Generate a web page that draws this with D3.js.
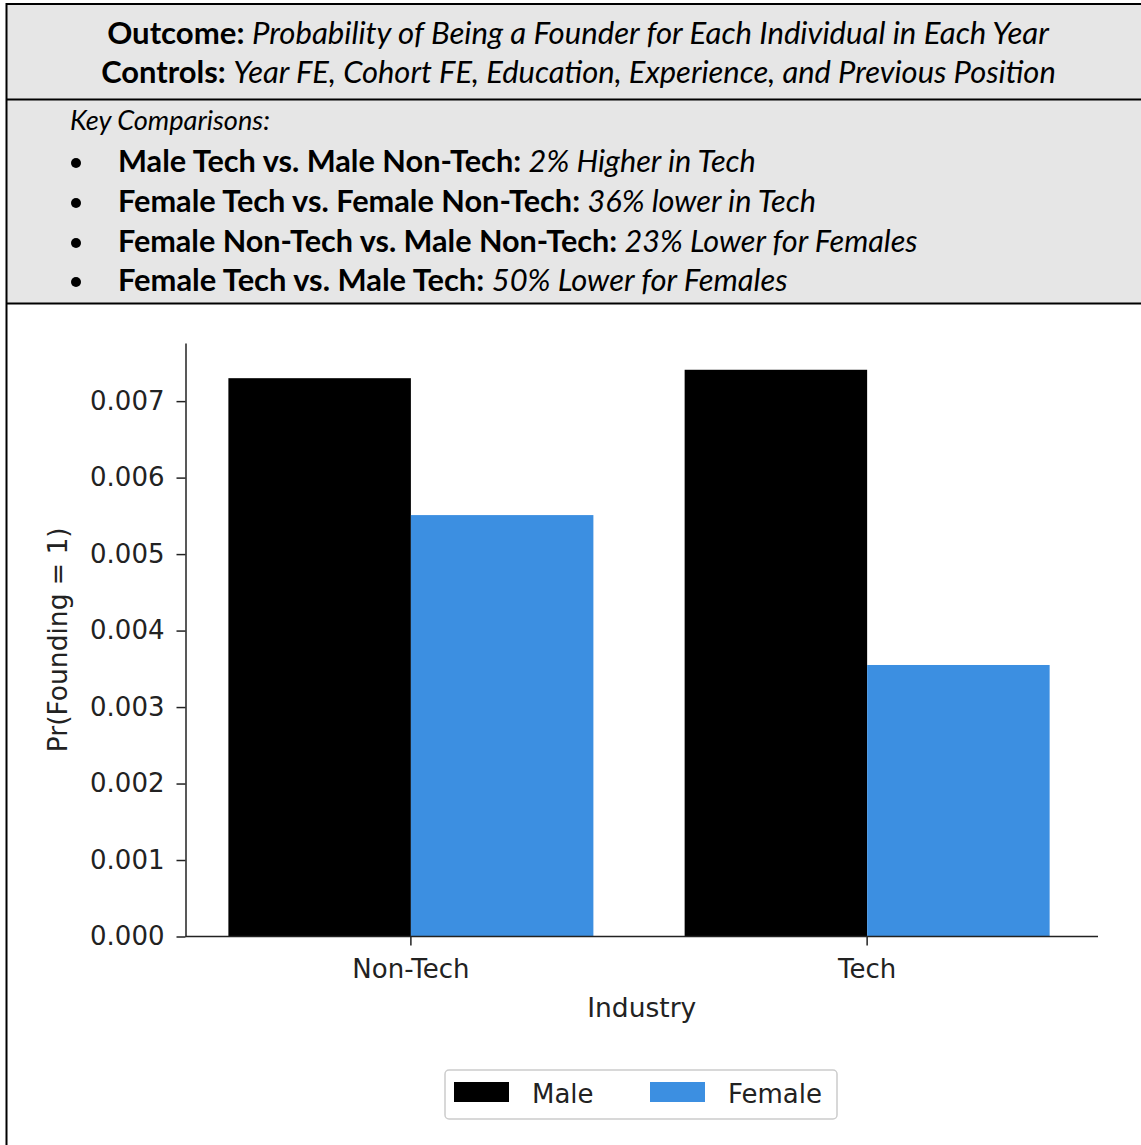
<!DOCTYPE html>
<html>
<head>
<meta charset="utf-8">
<script src="https://cdn.jsdelivr.net/npm/d3@7/dist/d3.min.js"></script>
<style>
  body { margin: 0; background: #fff; }
  text { white-space: pre; }
</style>
</head>
<body>
<svg width="1141" height="1145"></svg>
<script>
// data
var industries = ["Non-Tech", "Tech"];
var genders = ["Male", "Female"];
var maleValues = [0.00730, 0.00741];
var femaleValues = [0.00551, 0.00355];
var yTicks = [0, 0.001, 0.002, 0.003, 0.004, 0.005, 0.006, 0.007];
var genderColors = ["#000000", "#3c8fe1"];

// header text, each line = list of [text, bold, italic]
var outcomeLine = [["Outcome: ", true, false], ["Probability of Being a Founder for Each Individual in Each Year", false, true]];
var controlsLine = [["Controls: ", true, false], ["Year FE, Cohort FE, Education, Experience, and Previous Position", false, true]];
var keyLine = [["Key Comparisons:", false, true]];
var bullets = [
  [["Male Tech vs. Male Non-Tech: ", true, false], ["2% Higher in Tech", false, true]],
  [["Female Tech vs. Female Non-Tech: ", true, false], ["36% lower in Tech", false, true]],
  [["Female Non-Tech vs. Male Non-Tech: ", true, false], ["23% Lower for Females", false, true]],
  [["Female Tech vs. Male Tech: ", true, false], ["50% Lower for Females", false, true]]
];

var svg = d3.select("svg");
var width = 1141, height = 1145;
var headFont = "Lato, 'Open Sans', sans-serif";
var chartFont = "'DejaVu Sans', sans-serif";

// header boxes
svg.append("rect").attr("x", 6).attr("y", 4).attr("width", width - 6).attr("height", 299)
  .attr("fill", "#e6e6e6");
svg.append("line").attr("x1", 6).attr("x2", width).attr("y1", 4).attr("y2", 4)
  .attr("stroke", "#000").attr("stroke-width", 2);
svg.append("line").attr("x1", 6).attr("x2", width).attr("y1", 99.5).attr("y2", 99.5)
  .attr("stroke", "#000").attr("stroke-width", 2);
svg.append("line").attr("x1", 6).attr("x2", width).attr("y1", 303.5).attr("y2", 303.5)
  .attr("stroke", "#000").attr("stroke-width", 2);
svg.append("line").attr("x1", 6.5).attr("x2", 6.5).attr("y1", 3).attr("y2", height)
  .attr("stroke", "#000").attr("stroke-width", 2);

// draw a line of mixed text and fit it to the span x0..x1
function textLine(parts, x0, x1, y, anchor) {
  var t = svg.append("text")
    .attr("x", anchor == "middle" ? (x0 + x1) / 2 : x0)
    .attr("y", y)
    .attr("text-anchor", anchor)
    .attr("font-family", headFont)
    .attr("font-size", 28)
    .attr("fill", "#000");
  parts.forEach(function(p) {
    t.append("tspan").text(p[0])
      .attr("font-weight", p[1] ? "bold" : "normal")
      .attr("font-style", p[2] ? "italic" : "normal");
  });
  var w = t.node().getComputedTextLength();
  t.attr("font-size", 28 * (x1 - x0) / w);
  return t;
}

textLine(outcomeLine, 107, 1049, 44, "middle");
textLine(controlsLine, 101, 1056, 83, "middle");
textLine(keyLine, 70, 270, 130, "start");

var bulletEnds = [756, 816, 918, 788];
var bulletY = [172, 212, 252, 291];
bullets.forEach(function(b, i) {
  textLine(b, 118, bulletEnds[i], bulletY[i], "start");
  svg.append("circle").attr("cx", 76).attr("cy", bulletY[i] - 9).attr("r", 5).attr("fill", "#000");
});

// chart
var plotLeft = 185.5, plotRight = 1098, plotTop = 343, plotBottom = 936.5;
var y = d3.scaleLinear().domain([0, 0.00776]).range([plotBottom, plotTop]);
var x0 = d3.scaleBand().domain(industries).range([plotLeft, plotRight])
  .paddingInner(0.2).paddingOuter(0.1).align(0.47);
var x1 = d3.scaleBand().domain(genders).range([0, x0.bandwidth()]).padding(0);

var rows = industries.map(function(ind, i) {
  return { industry: ind, values: [maleValues[i], femaleValues[i]] };
});

var groups = svg.append("g").selectAll("g")
  .data(rows).enter().append("g")
  .attr("transform", function(d) { return "translate(" + x0(d.industry) + ",0)"; });

groups.selectAll("rect")
  .data(function(d) { return d.values.map(function(v, j) { return { g: genders[j], v: v, c: genderColors[j] }; }); })
  .enter().append("rect")
  .attr("x", function(d) { return x1(d.g); })
  .attr("width", x1.bandwidth())
  .attr("y", function(d) { return y(d.v); })
  .attr("height", function(d) { return plotBottom - y(d.v); })
  .attr("fill", function(d) { return d.c; });

// y axis
var yAxis = svg.append("g").attr("transform", "translate(" + plotLeft + ",0)")
  .call(d3.axisLeft(y).tickValues(yTicks).tickFormat(d3.format(".3f")).tickSize(9).tickPadding(12).tickSizeOuter(0));
yAxis.select(".domain").attr("stroke", "#222").attr("stroke-width", 1.5);
yAxis.selectAll(".tick line").attr("stroke", "#222").attr("stroke-width", 1.5);
yAxis.selectAll("text").attr("font-family", chartFont).attr("font-size", 26).attr("fill", "#222");

// x axis
var xTick = d3.scaleOrdinal().domain(industries).range(industries.map(function(d) { return x0(d) + x0.bandwidth() / 2; }));
var xAxisG = svg.append("g").attr("transform", "translate(0," + plotBottom + ")");
xAxisG.append("line").attr("x1", plotLeft).attr("x2", plotRight)
  .attr("stroke", "#222").attr("stroke-width", 1.5);
var xt = xAxisG.selectAll(".xt").data(industries).enter().append("g")
  .attr("transform", function(d) { return "translate(" + xTick(d) + ",0)"; });
xt.append("line").attr("y2", 9).attr("stroke", "#222").attr("stroke-width", 1.5);
xt.append("text").text(function(d) { return d; })
  .attr("y", 41.5).attr("text-anchor", "middle")
  .attr("font-family", chartFont).attr("font-size", 26).attr("fill", "#222");

svg.append("text").text("Industry")
  .attr("x", (plotLeft + plotRight) / 2).attr("y", 1017)
  .attr("text-anchor", "middle")
  .attr("font-family", chartFont).attr("font-size", 26.5).attr("fill", "#222");

svg.append("text").text("Pr(Founding = 1)")
  .attr("transform", "translate(67," + (plotTop + plotBottom) / 2 + ") rotate(-90)")
  .attr("text-anchor", "middle")
  .attr("font-family", chartFont).attr("font-size", 26.5).attr("fill", "#222");

// legend
var legend = svg.append("g").attr("transform", "translate(445,1070)");
legend.append("rect").attr("width", 392).attr("height", 49).attr("rx", 4)
  .attr("fill", "#fff").attr("stroke", "#cccccc").attr("stroke-width", 1.5);
var items = legend.selectAll(".item").data(genders).enter().append("g")
  .attr("transform", function(d, i) { return "translate(" + (9 + i * 196) + ",12)"; });
items.append("rect").attr("width", 55).attr("height", 20)
  .attr("fill", function(d, i) { return genderColors[i]; });
items.append("text").text(function(d) { return d; })
  .attr("x", 78).attr("y", 21)
  .attr("font-family", chartFont).attr("font-size", 26).attr("fill", "#222");
</script>
</body>
</html>
